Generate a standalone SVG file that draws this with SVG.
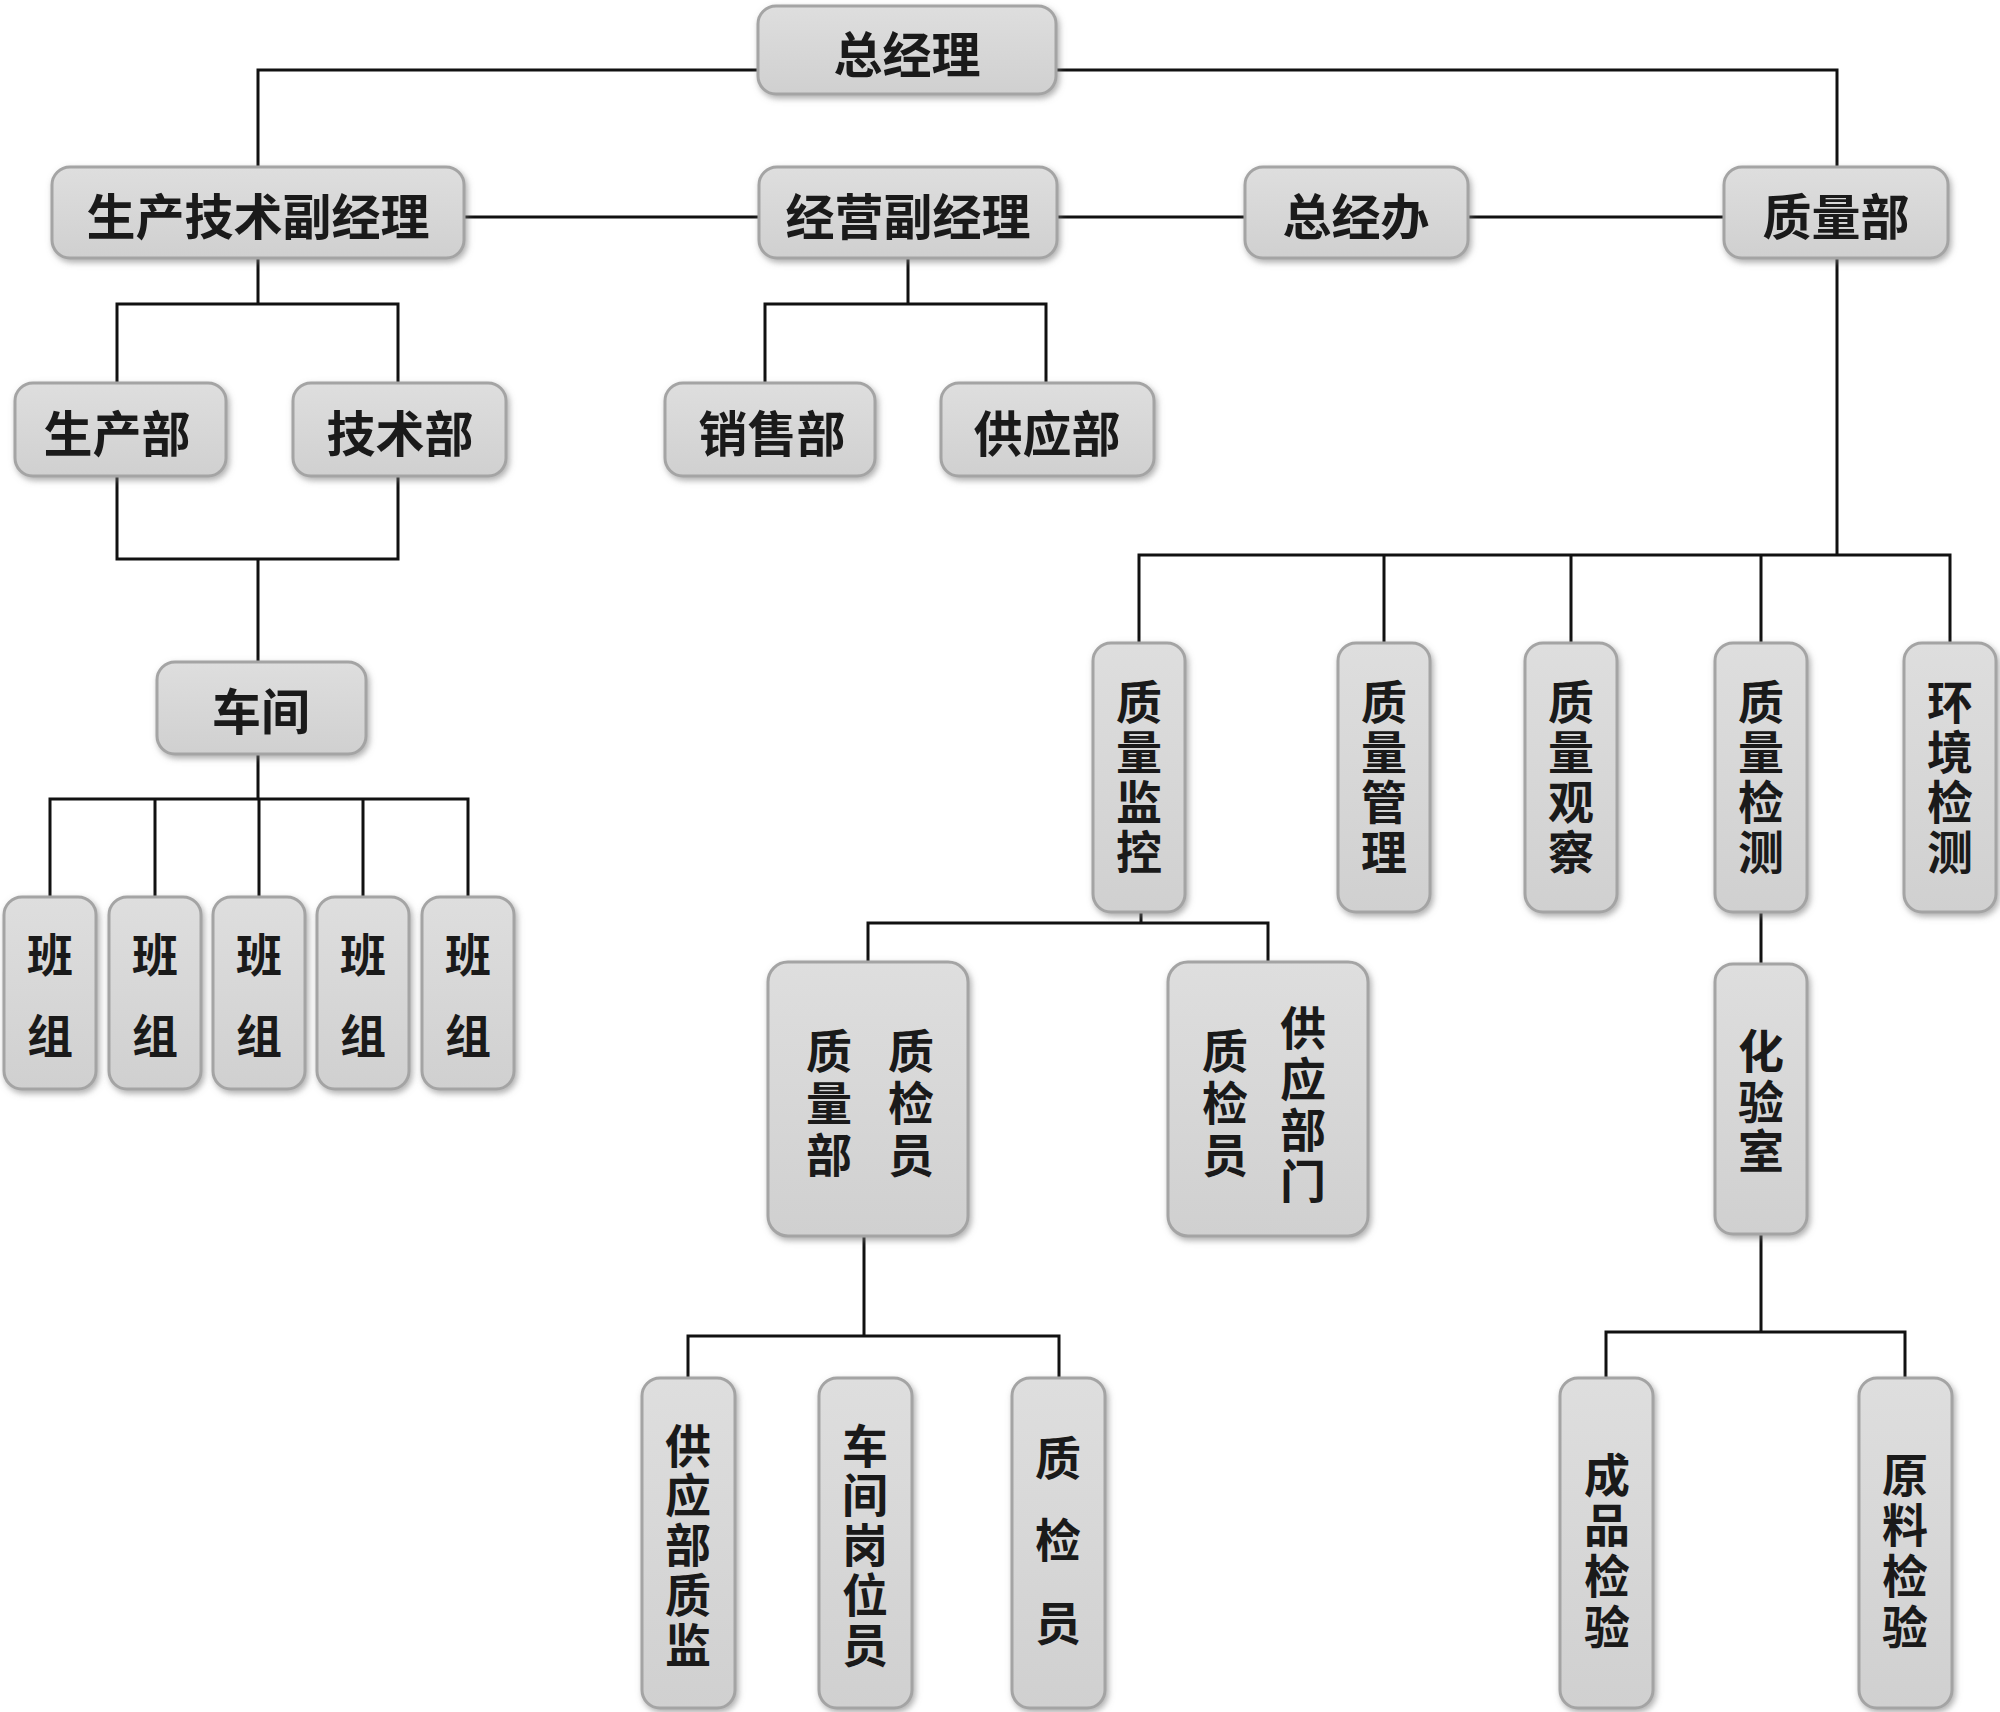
<svg xmlns="http://www.w3.org/2000/svg" width="2000" height="1712" viewBox="0 0 2000 1712">
<defs>
<linearGradient id="g" x1="0" y1="0" x2="0" y2="1">
<stop offset="0" stop-color="#dedede"/>
<stop offset="1" stop-color="#d0d0d0"/>
</linearGradient>
<filter id="sh" x="-20%" y="-20%" width="140%" height="140%">
<feDropShadow dx="2" dy="3" stdDeviation="3" flood-color="#777" flood-opacity="0.6"/>
</filter>
</defs>
<style>
.box{fill:url(#g);stroke:#a4a4a4;stroke-width:3;filter:url(#sh)}
.t{font-family:"Noto Sans CJK SC","Noto Sans",sans-serif;font-weight:bold;font-size:49px;fill:#1a1a1a;text-anchor:middle;dominant-baseline:central}
.v{font-size:46px}
.c{fill:none;stroke:#111;stroke-width:3}
</style>
<rect width="2000" height="1712" fill="#fff"/>
<g id="connectors" class="c">
<path d="M258,167 V70 H1837 V167"/>
<path d="M464,217 H759 M1057,217 H1245 M1468,217 H1724"/>
<path d="M258,259 V304 M117,383 V304 H398 V383"/>
<path d="M908,259 V304 M765,383 V304 H1046 V383"/>
<path d="M117,476 V559 H398 V476 M258,559 V662"/>
<path d="M258,754 V799 M50,897 V799 H468 V897 M155,799 V897 M259,799 V897 M363,799 V897"/>
<path d="M1837,259 V555 M1139,643 V555 H1950 V643 M1384,555 V643 M1571,555 V643 M1761,555 V643"/>
<path d="M1141,912 V923 M868,962 V923 H1268 V962"/>
<path d="M864,1236 V1336 M688,1378 V1336 H1059 V1378"/>
<path d="M1761,912 V964 M1761,1234 V1332 M1606,1378 V1332 H1905 V1378"/>
</g>
<g id="n-zongjingli"><rect class="box" x="758" y="6" width="298" height="88" rx="18"/><text class="t" x="907" y="51">总经理</text></g>
<g id="n-shengchanjishu"><rect class="box" x="52" y="167" width="412" height="91" rx="18"/><text class="t" x="258" y="213">生产技术副经理</text></g>
<g id="n-jingying"><rect class="box" x="759" y="167" width="298" height="91" rx="18"/><text class="t" x="908" y="213">经营副经理</text></g>
<g id="n-zongjingban"><rect class="box" x="1245" y="167" width="223" height="91" rx="18"/><text class="t" x="1356" y="213">总经办</text></g>
<g id="n-zhiliangbu"><rect class="box" x="1724" y="167" width="224" height="91" rx="18"/><text class="t" x="1836" y="213">质量部</text></g>
<g id="n-shengchanbu"><rect class="box" x="15" y="383" width="211" height="93" rx="18"/><text class="t" x="117" y="430">生产部</text></g>
<g id="n-jishubu"><rect class="box" x="293" y="383" width="213" height="93" rx="18"/><text class="t" x="400" y="430">技术部</text></g>
<g id="n-xiaoshoubu"><rect class="box" x="665" y="383" width="210" height="93" rx="18"/><text class="t" x="772" y="430">销售部</text></g>
<g id="n-gongyingbu"><rect class="box" x="941" y="383" width="213" height="93" rx="18"/><text class="t" x="1047" y="430">供应部</text></g>
<g id="n-chejian"><rect class="box" x="157" y="662" width="209" height="92" rx="18"/><text class="t" x="261" y="708">车间</text></g>
<g id="n-banzu1"><rect class="box" x="4" y="897" width="92" height="192" rx="18"/><text class="t v"><tspan x="50" y="952">班</tspan><tspan x="50" y="1033">组</tspan></text></g>
<g id="n-banzu2"><rect class="box" x="109" y="897" width="92" height="192" rx="18"/><text class="t v"><tspan x="155" y="952">班</tspan><tspan x="155" y="1033">组</tspan></text></g>
<g id="n-banzu3"><rect class="box" x="213" y="897" width="92" height="192" rx="18"/><text class="t v"><tspan x="259" y="952">班</tspan><tspan x="259" y="1033">组</tspan></text></g>
<g id="n-banzu4"><rect class="box" x="317" y="897" width="92" height="192" rx="18"/><text class="t v"><tspan x="363" y="952">班</tspan><tspan x="363" y="1033">组</tspan></text></g>
<g id="n-banzu5"><rect class="box" x="422" y="897" width="92" height="192" rx="18"/><text class="t v"><tspan x="468" y="952">班</tspan><tspan x="468" y="1033">组</tspan></text></g>
<g id="n-zhiliangjiankong"><rect class="box" x="1093" y="643" width="92" height="269" rx="18"/><text class="t v"><tspan x="1139" y="699">质</tspan><tspan x="1139" y="749">量</tspan><tspan x="1139" y="799">监</tspan><tspan x="1139" y="849">控</tspan></text></g>
<g id="n-zhiliangguanli"><rect class="box" x="1338" y="643" width="92" height="269" rx="18"/><text class="t v"><tspan x="1384" y="699">质</tspan><tspan x="1384" y="749">量</tspan><tspan x="1384" y="799">管</tspan><tspan x="1384" y="849">理</tspan></text></g>
<g id="n-zhiliangguancha"><rect class="box" x="1525" y="643" width="92" height="269" rx="18"/><text class="t v"><tspan x="1571" y="699">质</tspan><tspan x="1571" y="749">量</tspan><tspan x="1571" y="799">观</tspan><tspan x="1571" y="849">察</tspan></text></g>
<g id="n-zhiliangjiance"><rect class="box" x="1715" y="643" width="92" height="269" rx="18"/><text class="t v"><tspan x="1761" y="699">质</tspan><tspan x="1761" y="749">量</tspan><tspan x="1761" y="799">检</tspan><tspan x="1761" y="849">测</tspan></text></g>
<g id="n-huanjingjiance"><rect class="box" x="1904" y="643" width="92" height="269" rx="18"/><text class="t v"><tspan x="1950" y="699">环</tspan><tspan x="1950" y="749">境</tspan><tspan x="1950" y="799">检</tspan><tspan x="1950" y="849">测</tspan></text></g>
<g id="n-zlbzjy"><rect class="box" x="768" y="962" width="200" height="274" rx="20"/><text class="t v"><tspan x="829" y="1048">质</tspan><tspan x="829" y="1100">量</tspan><tspan x="829" y="1152">部</tspan></text><text class="t v"><tspan x="911" y="1048">质</tspan><tspan x="911" y="1100">检</tspan><tspan x="911" y="1152">员</tspan></text></g>
<g id="n-gybmzjy"><rect class="box" x="1168" y="962" width="200" height="274" rx="20"/><text class="t v"><tspan x="1225" y="1048">质</tspan><tspan x="1225" y="1100">检</tspan><tspan x="1225" y="1152">员</tspan></text><text class="t v"><tspan x="1303" y="1025">供</tspan><tspan x="1303" y="1076">应</tspan><tspan x="1303" y="1127">部</tspan><tspan x="1303" y="1178">门</tspan></text></g>
<g id="n-huayanshi"><rect class="box" x="1715" y="964" width="92" height="270" rx="18"/><text class="t v"><tspan x="1761" y="1048">化</tspan><tspan x="1761" y="1099">验</tspan><tspan x="1761" y="1148">室</tspan></text></g>
<g id="n-gongyingbuzhijian"><rect class="box" x="642" y="1378" width="93" height="330" rx="18"/><text class="t v"><tspan x="688" y="1443">供</tspan><tspan x="688" y="1492">应</tspan><tspan x="688" y="1542">部</tspan><tspan x="688" y="1592">质</tspan><tspan x="688" y="1642">监</tspan></text></g>
<g id="n-chejiangangweiyuan"><rect class="box" x="819" y="1378" width="93" height="330" rx="18"/><text class="t v"><tspan x="865" y="1443">车</tspan><tspan x="865" y="1492">间</tspan><tspan x="865" y="1542">岗</tspan><tspan x="865" y="1592">位</tspan><tspan x="865" y="1642">员</tspan></text></g>
<g id="n-zhijianyuan"><rect class="box" x="1012" y="1378" width="93" height="330" rx="18"/><text class="t v"><tspan x="1058" y="1455">质</tspan><tspan x="1058" y="1537">检</tspan><tspan x="1058" y="1620">员</tspan></text></g>
<g id="n-chengpinjianyan"><rect class="box" x="1560" y="1378" width="93" height="330" rx="18"/><text class="t v"><tspan x="1607" y="1472">成</tspan><tspan x="1607" y="1522">品</tspan><tspan x="1607" y="1573">检</tspan><tspan x="1607" y="1624">验</tspan></text></g>
<g id="n-yuanliaojianyan"><rect class="box" x="1859" y="1378" width="93" height="330" rx="18"/><text class="t v"><tspan x="1905" y="1472">原</tspan><tspan x="1905" y="1522">料</tspan><tspan x="1905" y="1573">检</tspan><tspan x="1905" y="1624">验</tspan></text></g>
</svg>
